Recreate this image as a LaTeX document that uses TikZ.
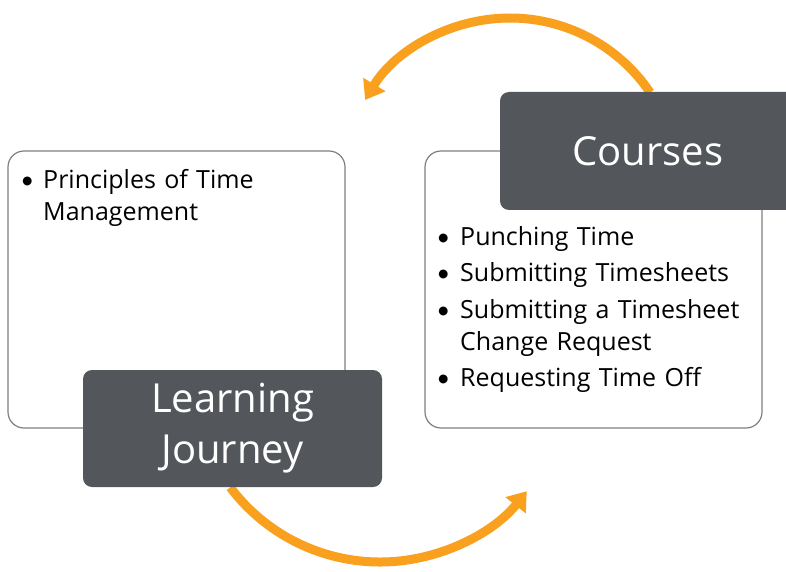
\documentclass[tikz,border=0pt]{standalone}
\usepackage{fontspec}
\setmainfont{Open Sans}[Ligatures=NoCommon]
\newfontfamily\dotfont{Carlito}
\usetikzlibrary{arrows.meta}

\definecolor{slate}{RGB}{83,86,91}
\definecolor{amber}{RGB}{249,161,30}
\definecolor{rim}{RGB}{128,128,128}

% bullet item with a hanging indent
\newcommand\bitem[2]{\hangindent=#1\hangafter=1\leavevmode\strut\makebox[#1][l]{\dotfont\textbullet}#2\par}

\tikzset{
  panel/.style={draw=rim, line width=1.2pt, fill=white, rounded corners=16pt,
    minimum width=337pt, minimum height=277pt, inner sep=0pt},
  title/.style={fill=slate, rounded corners=9pt, text=white, inner sep=0pt,
    font=\fontsize{40}{51}\selectfont, align=center},
  cycle/.style={draw=amber, line width=9pt, -{Triangle[length=18pt,width=25pt]}},
  bullets/.style={anchor=north west, text width=320pt, inner sep=0pt,
    font=\fontsize{25}{32}\selectfont,
    execute at begin node={\raggedright\setlength\parskip{4.5pt}}}
}

\begin{document}
\begin{tikzpicture}[x=1pt,y=1pt]
  \useasboundingbox (0,0) rectangle (786,571);
  \clip (0,0) rectangle (786,571);

  % cycle arrows
  \coordinate (topstart) at ({510+169*cos(34)},{384+169*sin(34)});
  \coordinate (botstart) at ({380+187.5*cos(217)},{196.5+187.5*sin(217)});
  \draw[cycle] (topstart) arc[start angle=34, end angle=149, radius=169];
  \draw[cycle] (botstart) arc[start angle=217, end angle=321.5, radius=187.5];

  % content panels
  \node[panel] (leftpanel) at (176.5,281.5) {};
  \node[panel] (rightpanel) at (593.5,281.5) {};

  % bullet lists
  \node[bullets] (leftlist) at (21,{571-188.3+22.4}) {%
    \bitem{22pt}{Principles of Time\hfil\break Management}};
  \node[bullets] (rightlist) at (437,{571-245+22.4}) {%
    \bitem{23pt}{Punching Time}
    \bitem{23pt}{Submitting Timesheets}
    \bitem{23pt}{Submitting a Timesheet\hfil\break Change Request}
    \bitem{23pt}{Requesting Time Off}};

  % title tabs
  \node[title, minimum width=299pt, minimum height=117pt] (journey) at (232.5,142.5)
    {Learning\\Journey};
  \node[title, minimum width=296pt, minimum height=118pt] (courses) at (648,420)
    {Courses};
\end{tikzpicture}
\end{document}
